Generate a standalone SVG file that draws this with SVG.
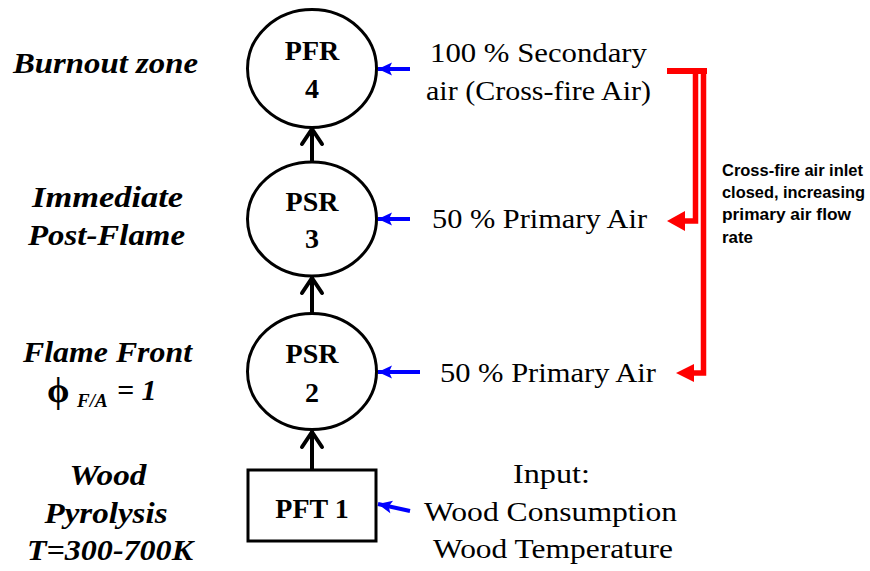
<svg xmlns="http://www.w3.org/2000/svg" width="870" height="571" viewBox="0 0 870 571">
<style>
.node{fill:#fff;stroke:#000;stroke-width:3}
.lbl{font-family:'Liberation Serif','Times New Roman',Times,'DejaVu Serif',serif;font-weight:700;font-size:28px;fill:#000;text-anchor:middle}
.side{font-family:'Liberation Serif','Times New Roman',Times,'DejaVu Serif',serif;font-weight:700;font-style:italic;font-size:30px;fill:#000;text-anchor:middle}
.air{font-family:'Liberation Serif','Times New Roman',Times,'DejaVu Serif',serif;font-weight:400;font-size:27px;fill:#000}
.note{font-family:'Liberation Sans',Arial,Helvetica,sans-serif;font-weight:700;font-size:16.5px;fill:#000}
.flow{fill:none;stroke:#000;stroke-width:4}
.blue{fill:none;stroke:#0000ff;stroke-width:4}
.red{fill:none;stroke:#ff0000}
</style>
<defs>
<marker id="chev" markerUnits="userSpaceOnUse" viewBox="-20 -14 24 28" refX="0" refY="0" markerWidth="24" markerHeight="28" orient="auto">
<path d="M-16,-10 L-1,0 L-16,10" fill="none" stroke="#000" stroke-width="4" stroke-linejoin="round" stroke-linecap="round"/>
</marker>
<marker id="bhead" markerUnits="userSpaceOnUse" viewBox="-15 -7 16 14" refX="0" refY="0" markerWidth="16" markerHeight="14" orient="auto">
<path d="M0,0 L-14,-6.5 L-11,0 L-14,6.5 Z" fill="#0000ff"/>
</marker>
</defs>

<g id="side-labels">
<text class="side" x="105.5" y="73" textLength="185" lengthAdjust="spacingAndGlyphs">Burnout zone</text>
<text class="side" x="107.5" y="207" textLength="151" lengthAdjust="spacingAndGlyphs">Immediate</text>
<text class="side" x="106.5" y="245" textLength="157" lengthAdjust="spacingAndGlyphs">Post-Flame</text>
<text class="side" x="107.5" y="362" textLength="169" lengthAdjust="spacingAndGlyphs">Flame Front</text>
<text class="side" style="text-anchor:start"><tspan x="47" y="402" font-size="36" font-style="normal">ϕ</tspan><tspan x="77" y="407" font-size="19">F/A</tspan><tspan x="117" y="400">= 1</tspan></text>
<text class="side" x="108" y="485" textLength="77" lengthAdjust="spacingAndGlyphs">Wood</text>
<text class="side" x="106" y="523" textLength="123" lengthAdjust="spacingAndGlyphs">Pyrolysis</text>
<text class="side" x="110" y="560" textLength="166" lengthAdjust="spacingAndGlyphs">T=300-700K</text>
</g>

<g id="connectors">
<line class="flow" x1="312" y1="470" x2="312" y2="431" marker-end="url(#chev)"/>
<line class="flow" x1="312" y1="313" x2="312" y2="277" marker-end="url(#chev)"/>
<line class="flow" x1="312" y1="162" x2="312" y2="128" marker-end="url(#chev)"/>
<line class="blue" x1="410" y1="69" x2="378" y2="69" marker-end="url(#bhead)"/>
<line class="blue" x1="410" y1="219" x2="378" y2="219" marker-end="url(#bhead)"/>
<line class="blue" x1="420" y1="372" x2="378" y2="372" marker-end="url(#bhead)"/>
<line class="blue" x1="410" y1="511" x2="378" y2="504" marker-end="url(#bhead)"/>
<g id="red-bracket">
<path class="red" d="M667,71 H707" stroke-width="6"/>
<path class="red" d="M695.5,71 V221 H682" stroke-width="5.5" stroke-linejoin="miter"/>
<path class="red" d="M703.5,71 V373 H692" stroke-width="5.5" stroke-linejoin="miter"/>
<path d="M667,221 L685,211 L685,231 Z" fill="#ff0000"/>
<path d="M676,373 L694,364 L694,382 Z" fill="#ff0000"/>
</g>
</g>

<g id="pfr4">
<ellipse class="node" cx="312" cy="68.5" rx="64.5" ry="59"/>
<text class="lbl" x="312" y="60">PFR</text>
<text class="lbl" x="312" y="98">4</text>
</g>
<g id="psr3">
<ellipse class="node" cx="312" cy="219" rx="64.5" ry="57"/>
<text class="lbl" x="312" y="211">PSR</text>
<text class="lbl" x="312" y="248">3</text>
</g>
<g id="psr2">
<ellipse class="node" cx="312" cy="371.5" rx="64.5" ry="58"/>
<text class="lbl" x="312" y="363">PSR</text>
<text class="lbl" x="312" y="402">2</text>
</g>
<g id="pft1">
<rect class="node" x="248" y="470" width="128" height="71"/>
<text class="lbl" x="312" y="518">PFT 1</text>
</g>

<g id="air-labels">
<text class="air" x="430" y="62" textLength="217" lengthAdjust="spacingAndGlyphs">100 % Secondary</text>
<text class="air" x="426" y="100" textLength="225" lengthAdjust="spacingAndGlyphs">air (Cross-fire Air)</text>
<text class="air" x="432" y="228" textLength="215" lengthAdjust="spacingAndGlyphs">50 % Primary Air</text>
<text class="air" x="440" y="382" textLength="216" lengthAdjust="spacingAndGlyphs">50 % Primary Air</text>
<text class="air" x="513" y="483" textLength="77" lengthAdjust="spacingAndGlyphs">Input:</text>
<text class="air" x="424" y="521" textLength="253" lengthAdjust="spacingAndGlyphs">Wood Consumption</text>
<text class="air" x="433" y="558" textLength="240" lengthAdjust="spacingAndGlyphs">Wood Temperature</text>
</g>

<g id="note">
<text class="note" x="722" y="176" textLength="141" lengthAdjust="spacingAndGlyphs">Cross-fire air inlet</text>
<text class="note" x="722" y="198" textLength="143" lengthAdjust="spacingAndGlyphs">closed, increasing</text>
<text class="note" x="722" y="220" textLength="129" lengthAdjust="spacingAndGlyphs">primary air flow</text>
<text class="note" x="722" y="243" textLength="31" lengthAdjust="spacingAndGlyphs">rate</text>
</g>
</svg>
